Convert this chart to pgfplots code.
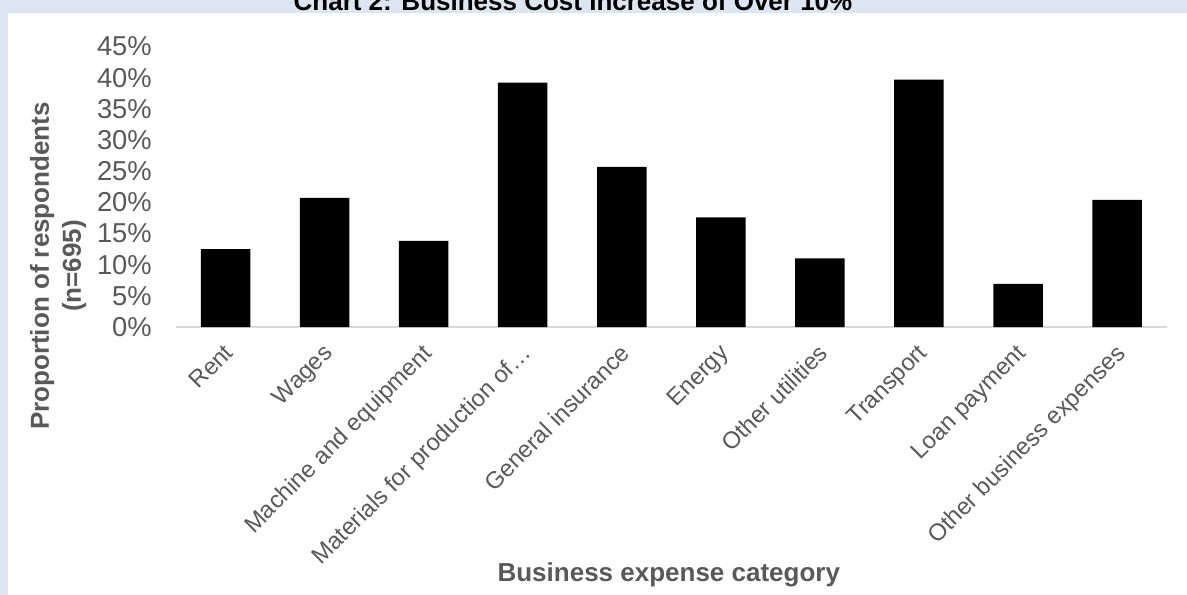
\documentclass[border=0pt]{standalone}
\usepackage{fontspec}
\setmainfont{Liberation Sans}
\usepackage{pgfplots}
\pgfplotsset{compat=1.18}
\definecolor{bgblue}{RGB}{220,230,242}
\definecolor{txtgray}{RGB}{89,89,89}
\definecolor{axgray}{RGB}{217,217,217}
\begin{document}
\begin{tikzpicture}
\useasboundingbox (0,0) rectangle (890.25pt,-446.25pt);
\fill[bgblue] (0,0) rectangle (890.25pt,-446.25pt);
\fill[white] (6pt,-9.75pt) rectangle (890.25pt,-446.25pt);
\begin{scope}
\clip (0,0) rectangle (890.25pt,-446.25pt);
\node[anchor=base, font=\fontsize{19.5}{23}\selectfont\bfseries, inner sep=0pt] at (429.75pt,-7.95pt) {Chart 2: Business Cost Increase of Over 10\%};
\end{scope}
\begin{axis}[
  at={(132pt,-245.25pt)}, anchor=south west,
  scale only axis, width=742.95pt, height=210.375pt,
  xmin=-0.5, xmax=9.5, ymin=0, ymax=45,
  ybar, bar width=37.1pt,
  axis lines*=left,
  y axis line style={draw=none},
  x axis line style={draw=axgray, line width=1pt, -},
  major tick length=0pt,
  tick style={draw=none},
  xtick={0,...,9},
  xticklabels={Rent, Wages, Machine and equipment, Materials for production of…, General insurance, Energy, Other utilities, Transport, Loan payment, Other business expenses},
  xticklabel style={anchor=north east, inner sep=0pt, xshift=-2pt, yshift=-11.6pt, rotate=45, font=\fontsize{17.8}{21}\selectfont, text=txtgray},
  ytick={0,5,...,45},
  yticklabel={\pgfmathprintnumber{\tick}\%},
  /pgf/number format/assume math mode=true,
  yticklabel style={anchor=east, inner sep=0pt, xshift=-18pt, font=\fontsize{20.5}{24}\selectfont, text=txtgray},
  xlabel={Business expense category},
  every axis x label/.style={at={(axis description cs:0.4975,-0.908)}, anchor=base, font=\fontsize{19.5}{24}\selectfont\bfseries, text=txtgray},
  ylabel={Proportion of respondents\\(n=695)},
  every axis y label/.style={at={(axis description cs:-0.119,0.2175)}, rotate=90, anchor=center, align=center, font=\fontsize{19.5}{24}\selectfont\bfseries, text=txtgray},
]
\addplot[fill=black, draw=none] coordinates {(0,12.5) (1,20.7) (2,13.8) (3,39.2) (4,25.7) (5,17.6) (6,11.0) (7,39.7) (8,6.9) (9,20.4)};
\end{axis}
\end{tikzpicture}
\end{document}
